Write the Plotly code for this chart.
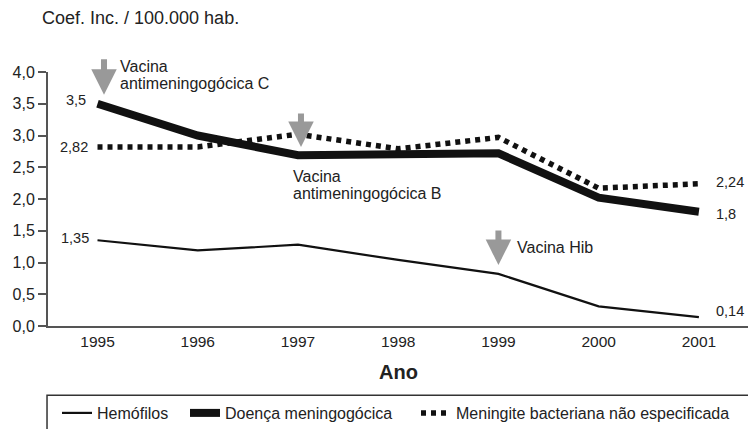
import plotly.graph_objects as go

years = [1995, 1996, 1997, 1998, 1999, 2000, 2001]
hemofilos = [1.35, 1.19, 1.28, 1.04, 0.82, 0.31, 0.14]
doenca = [3.5, 3.0, 2.69, 2.72, 2.72, 2.02, 1.8]
meningite = [2.82, 2.82, 3.02, 2.79, 2.97, 2.17, 2.24]
series_names = ["Hemófilos", "Doença meningogócica", "Meningite bacteriana não especificada"]

vaccine_years = [1995, 1997, 1999]
vaccine_tips = [3.64, 2.82, 0.96]
vaccine_labels = [["Vacina", "antimeningogócica C"], ["Vacina", "antimeningogócica B"], ["Vacina Hib"]]

y_ticks = [0, 0.5, 1.0, 1.5, 2.0, 2.5, 3.0, 3.5, 4.0]

FONT = "Liberation Sans, Arial, Helvetica, sans-serif"
TXT = "#222222"
AXC = "#555555"
ARROW = "#999999"

fig = go.Figure()
fig.add_trace(go.Scatter(x=years, y=hemofilos, mode="lines", name=series_names[0],
                         line=dict(color="#111111", width=2.2), legend="legend"))
fig.add_trace(go.Scatter(x=years, y=meningite, mode="lines", name=series_names[2],
                         line=dict(color="#111111", width=5.5, dash="5px,5px"), legend="legend3"))
fig.add_trace(go.Scatter(x=years, y=doenca, mode="lines", name=series_names[1],
                         line=dict(color="#111111", width=8), legend="legend2"))

def fmt(v):
    return str(v).replace(".", ",")

ann = []
# endpoint value labels
left_cfg = [(hemofilos, -6.5, 2), (doenca, -9.5, 4), (meningite, -7.5, 0)]
for arr, xs, ys in left_cfg:
    ann.append(dict(x=years[0], y=arr[0], text=fmt(arr[0]), showarrow=False, xanchor="right",
                    yanchor="middle", xshift=xs, yshift=ys, font=dict(size=14.5, color=TXT)))
right_cfg = [(hemofilos, 15, 6), (doenca, 15, -2), (meningite, 15, 2)]
for arr, xs, ys in right_cfg:
    ann.append(dict(x=years[-1], y=arr[-1], text=fmt(arr[-1]), showarrow=False, xanchor="left",
                    yanchor="middle", xshift=xs, yshift=ys, font=dict(size=14.5, color=TXT)))

# vaccine arrows and labels
arrow_cfg = [(6.5, -37), (3, -35), (0, -36)]
text_cfg = [(20.5, 28.3), (-7.3, -29.7), (16.7, 17.7)]
for i, (yr, tip) in enumerate(zip(vaccine_years, vaccine_tips)):
    xs, ay = arrow_cfg[i]
    ann.append(dict(x=yr, y=tip, text="", showarrow=True, ax=0, ay=ay, axref="pixel", ayref="pixel",
                    arrowhead=2, arrowsize=0.85, arrowwidth=6, arrowcolor=ARROW, standoff=0,
                    xshift=xs))
    tx, ty = text_cfg[i]
    for j, line in enumerate(vaccine_labels[i]):
        ann.append(dict(x=yr, y=tip, text=line, showarrow=False, xanchor="left", yanchor="middle",
                        xshift=tx, yshift=ty - 17 * j, font=dict(size=16, color=TXT)))

# x axis title
ann.append(dict(x=0.5, y=-0.181, xref="paper", yref="paper", text="<b>Ano</b>", showarrow=False,
                xanchor="center", yanchor="middle", font=dict(size=20, color=TXT)))

fig.update_layout(
    width=748, height=429,
    margin=dict(l=48, r=0, t=72, b=103),
    paper_bgcolor="white", plot_bgcolor="white",
    separators=",.",
    font=dict(family=FONT, size=16, color=TXT),
    title=dict(text="Coef. Inc. / 100.000 hab.", x=42 / 748, xanchor="left", xref="container",
               y=1 - 18 / 429, yanchor="middle", yref="container", font=dict(size=18, color=TXT)),
    xaxis=dict(range=[1994.506, 2001.49], tickvals=years, ticktext=[str(y) for y in years],
               showgrid=False, zeroline=False, showline=True, linecolor=AXC, linewidth=2,
               ticks="", tickfont=dict(size=15.5, color=TXT), fixedrange=True),
    yaxis=dict(range=[0, 4], tickvals=y_ticks, tickformat=".1f", showgrid=False, zeroline=False,
               showline=True, linecolor=AXC, linewidth=2, ticks="outside", ticklen=8,
               tickcolor=AXC, tickwidth=1.5, tickfont=dict(size=16, color=TXT), fixedrange=True),
    annotations=ann,
    showlegend=True,
    legend=dict(x=57 / 748, xref="container", y=(429 - 413) / 429, yref="container",
                xanchor="left", yanchor="middle", bgcolor="rgba(0,0,0,0)",
                font=dict(size=16, color=TXT), orientation="h"),
    legend2=dict(x=185 / 748, xref="container", y=(429 - 413) / 429, yref="container",
                 xanchor="left", yanchor="middle", bgcolor="rgba(0,0,0,0)",
                 font=dict(size=16, color=TXT), orientation="h"),
    legend3=dict(x=416 / 748, xref="container", y=(429 - 413) / 429, yref="container",
                 xanchor="left", yanchor="middle", bgcolor="rgba(0,0,0,0)",
                 font=dict(size=16, color=TXT), orientation="h"),
    shapes=[dict(type="rect", xref="paper", yref="paper", x0=-0.0014, x1=1.01,
                 y0=-0.2725, y1=-0.46, line=dict(color="#333333", width=1.5),
                 fillcolor="rgba(0,0,0,0)", layer="below")],
)

fig.write_html("out.html", config={"displayModeBar": False},
               post_script="document.body.style.margin='0';document.body.style.overflow='hidden';")
